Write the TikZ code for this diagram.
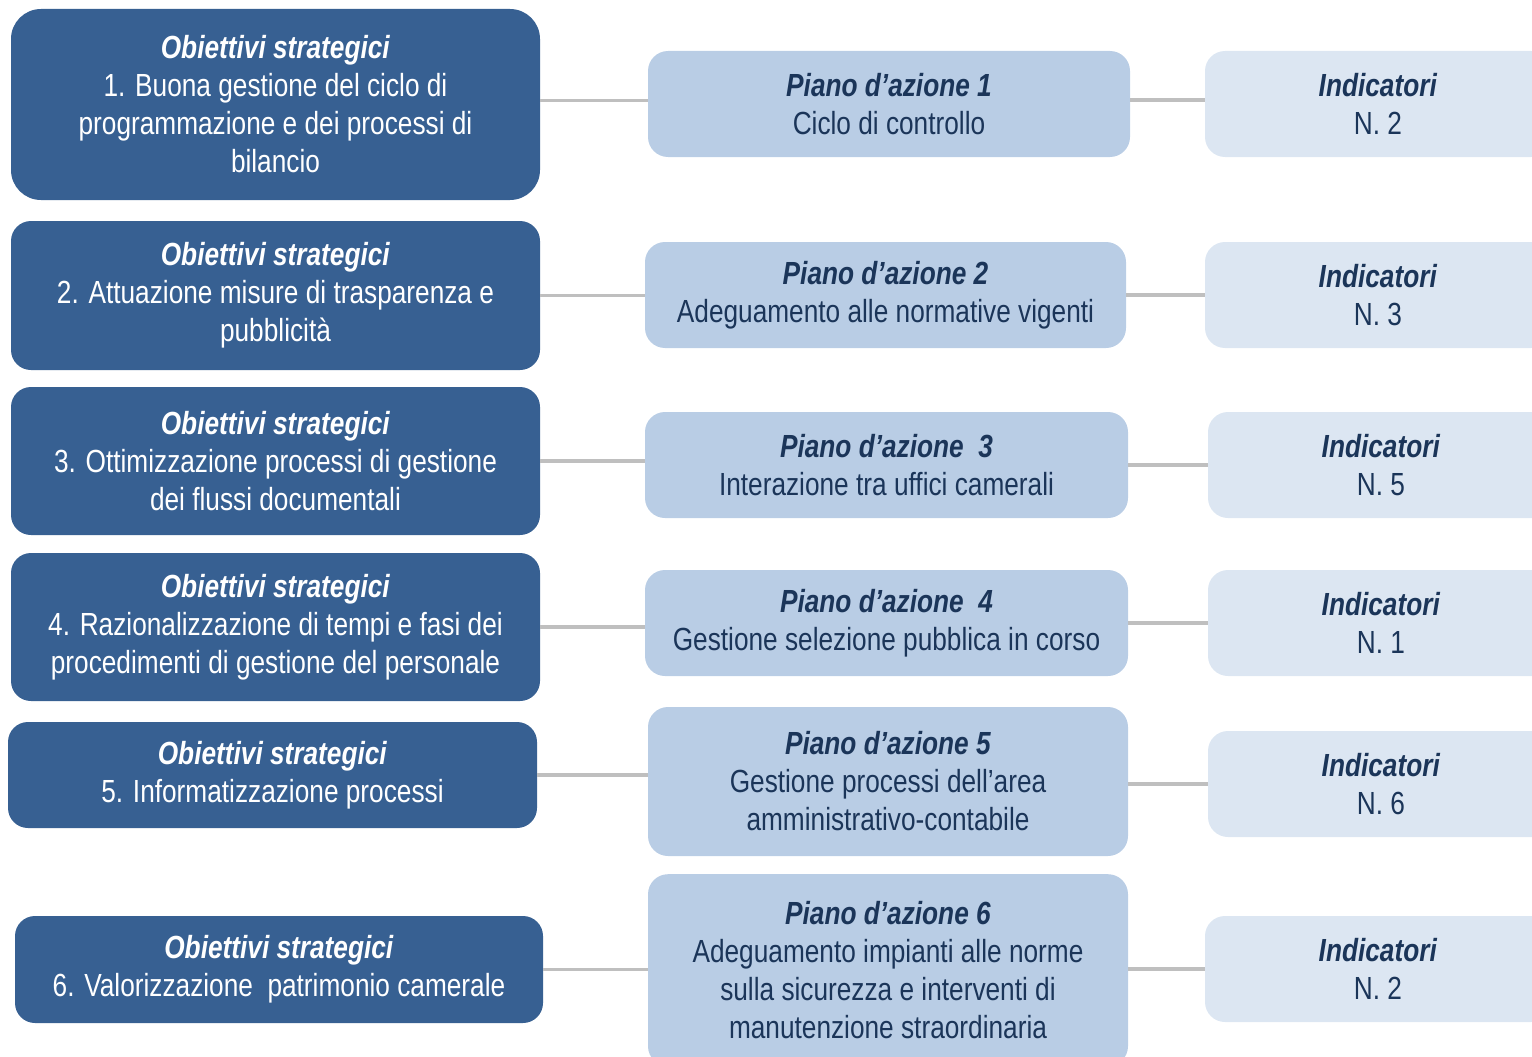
\documentclass[tikz,border=0pt]{standalone}
\usepackage{fontspec}
\setmainfont{Liberation Sans}[FakeStretch=0.82]
\definecolor{dkblue}{HTML}{376092}
\definecolor{midblue}{HTML}{B9CDE5}
\definecolor{ltblue}{HTML}{DCE6F2}
\definecolor{navy}{HTML}{1B3559}
\definecolor{linegray}{HTML}{BFBFBF}
\tikzset{
  base/.style={rounded corners=20pt, inner sep=0pt, align=center, font=\fontsize{32}{38}\selectfont},
  obj/.style={base, fill=dkblue, text=white},
  plan/.style={base, fill=midblue, text=navy},
  ind/.style={base, fill=ltblue, text=navy, minimum width=346pt, minimum height=106pt},
  conn/.style={draw=linegray, line width=3.5pt},
}
\newcommand{\ttl}[1]{\textbf{\textit{#1}}}
\begin{document}
\begin{tikzpicture}[x=1pt,y=-1pt]
\useasboundingbox (0,0) rectangle (1532,1057);
\clip (0,0) rectangle (1532,1057);
% left column
\node[obj, rounded corners=30pt, minimum width=529pt, minimum height=191pt] (L1) at (275.5,104.5)
  {\ttl{Obiettivi strategici}\\1. Buona gestione del ciclo di\\programmazione e dei processi di\\bilancio};
\node[obj, minimum width=529pt, minimum height=149pt] (L2) at (275.5,295.5)
  {\ttl{Obiettivi strategici}\\2. Attuazione misure di trasparenza e\\pubblicità};
\node[obj, minimum width=529pt, minimum height=148pt] (L3) at (275.5,461)
  {\ttl{Obiettivi strategici}\\3. Ottimizzazione processi di gestione\\dei flussi documentali};
\node[obj, minimum width=529pt, minimum height=148pt] (L4) at (275.5,627)
  {\ttl{Obiettivi strategici}\\4. Razionalizzazione di tempi e fasi dei\\procedimenti di gestione del personale};
\node[obj, minimum width=529pt, minimum height=106pt] (L5) at (272.5,775)
  {\ttl{Obiettivi strategici}\\5. Informatizzazione processi};
\node[obj, minimum width=528pt, minimum height=107pt] (L6) at (279,969.5)
  {\ttl{Obiettivi strategici}\\6. Valorizzazione\ \ patrimonio camerale};
% middle column
\node[plan, minimum width=482pt, minimum height=106pt] (P1) at (889,104)
  {\ttl{Piano d’azione 1}\\Ciclo di controllo};
\node[plan, minimum width=481pt, minimum height=106pt] (P2) at (885.5,295)
  {\ttl{Piano d’azione 2}\\Adeguamento alle normative vigenti};
\node[plan, minimum width=483pt, minimum height=106pt] (P3) at (886.5,465)
  {\ttl{Piano d’azione\ \ 3}\\Interazione tra uffici camerali};
\node[plan, minimum width=483pt, minimum height=106pt] (P4) at (886.5,623)
  {\ttl{Piano d’azione\ \ 4}\\Gestione selezione pubblica in corso};
\node[plan, minimum width=480pt, minimum height=149pt] (P5) at (888,781.5)
  {\ttl{Piano d’azione 5}\\Gestione processi dell’area\\amministrativo-contabile};
\node[plan, minimum width=480pt, minimum height=192pt, anchor=north] (P6) at (888,874)
  {\ttl{Piano d’azione 6}\\Adeguamento impianti alle norme\\sulla sicurezza e interventi di\\manutenzione straordinaria};
% right column
\node[ind] (I1) at (1378,104) {\ttl{Indicatori}\\N. 2};
\node[ind] (I2) at (1378,295) {\ttl{Indicatori}\\N. 3};
\node[ind] (I3) at (1381,465) {\ttl{Indicatori}\\N. 5};
\node[ind] (I4) at (1381,623) {\ttl{Indicatori}\\N. 1};
\node[ind] (I5) at (1381,784) {\ttl{Indicatori}\\N. 6};
\node[ind] (I6) at (1378,969) {\ttl{Indicatori}\\N. 2};
% connectors
\draw[conn] ([yshift=4pt]L1.east) -- ([yshift=4pt]L1.east -| P1.west);
\draw[conn] ([yshift=4pt]I1.west -| P1.east) -- ([yshift=4pt]I1.west);
\foreach \i in {2,...,6}{
  \draw[conn] (L\i.east) -- (L\i.east -| P\i.west);
  \draw[conn] (I\i.west -| P\i.east) -- (I\i.west);
}
\end{tikzpicture}
\end{document}
